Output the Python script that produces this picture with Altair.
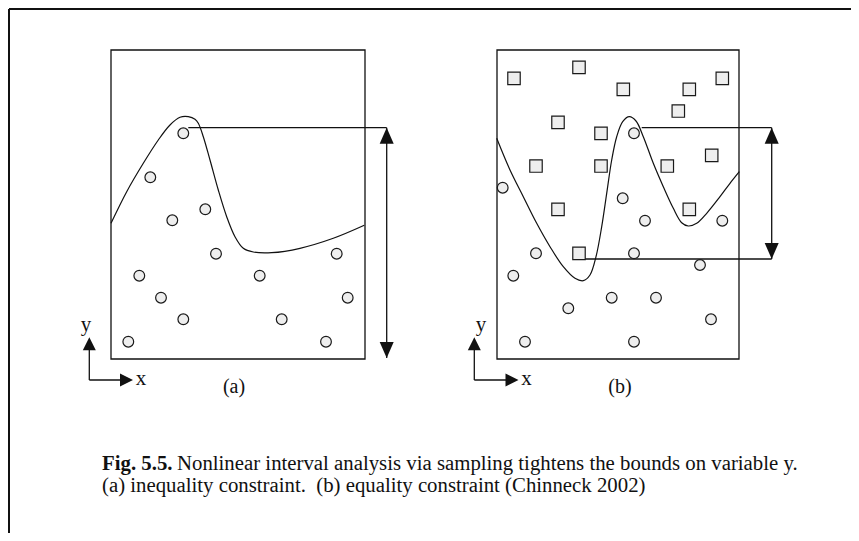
import altair as alt
import pandas as pd

# ---------------- data (diagram coordinates, y grows downward) ----------------
# panel (a): feasible sample points (circles)
a_circ_x = [183.3, 150.3, 172.3, 205.3, 216.0, 139.3, 161.0, 183.3, 128.3, 259.7, 281.7, 336.7, 347.7, 326.0]
a_circ_y = [133.3, 177.3, 220.3, 209.3, 253.7, 275.7, 297.7, 319.3, 341.7, 275.7, 319.3, 253.7, 297.7, 341.7]
# panel (a): constraint curve
a_curve_x = [111.0, 126.7, 143.3, 158.3, 170.0, 180.0, 188.3, 195.0, 198.3, 203.3, 210.0, 218.3, 226.7,
             235.0, 243.3, 253.3, 271.7, 300.0, 333.3, 364.3]
a_curve_y = [223.3, 191.7, 163.3, 140.0, 125.0, 117.3, 116.7, 119.3, 123.3, 136.7, 160.0, 190.0, 216.7,
             236.7, 248.3, 252.0, 252.7, 248.3, 238.3, 225.3]
# panel (b): infeasible (squares) and feasible (circles) sample points
b_sq_x = [514.0, 579.0, 623.3, 689.3, 722.3, 678.3, 558.0, 601.0, 711.7, 536.0, 601.0, 667.3, 558.0, 689.3, 579.0]
b_sq_y = [78.3, 67.3, 89.3, 89.3, 78.3, 111.0, 122.3, 133.3, 155.3, 166.0, 166.0, 166.0, 209.3, 209.3, 253.3]
b_circ_x = [634.0, 502.7, 622.7, 645.0, 722.3, 536.0, 634.0, 700.0, 513.3, 611.7, 656.0, 568.3, 711.0, 525.0, 634.0]
b_circ_y = [133.3, 187.7, 198.3, 220.7, 220.7, 253.3, 253.3, 265.0, 275.7, 297.7, 297.7, 308.3, 319.3, 341.7, 341.7]
# panel (b): constraint curve
b_curve_x = [496.7, 510.0, 523.3, 536.7, 550.0, 563.3, 575.0, 583.3, 590.0, 596.0, 601.7, 606.7, 611.7,
             616.7, 622.7, 629.3, 636.0, 643.3, 653.3, 663.3, 673.3, 681.7, 688.3, 696.7, 706.7, 720.0,
             730.0, 739.3]
b_curve_y = [138.3, 170.0, 196.7, 223.3, 246.7, 266.7, 278.3, 280.7, 275.0, 256.7, 226.7, 193.3, 160.0,
             136.7, 121.7, 116.7, 121.0, 136.7, 163.3, 186.7, 208.3, 222.7, 226.0, 223.3, 213.3, 196.7,
             183.3, 171.7]

# panel frames
box_x1 = [111, 497]
box_x2 = [365, 739]
box_y1 = [50, 50]
box_y2 = [359, 359]

# bound lines (horizontal) and bound arrows (vertical)
bound_x1 = [188.3, 641.7, 585.0]
bound_x2 = [386.7, 771.7, 771.7]
bound_y = [127.7, 127.7, 259.0]
arrow_x = [386.7, 771.7]
arrow_top = [127.7, 127.7]
arrow_bot = [358.0, 259.0]

# little x-y axis icons
icon_x0 = [89.3, 474.3]
icon_y0 = [380.0, 380.0]
icon_ytip = [337.3, 337.3]
icon_xtip = [133.0, 518.5]
ylab_x = [86.0, 481.0]
ylab_y = [325.0, 325.0]
xlab_x = [141.0, 526.5]
xlab_y = [379.0, 379.0]
panel_labels = ["(a)", "(b)"]
panel_lab_x = [234.0, 620.0]
panel_lab_y = [387.0, 387.0]

cap_bold = "Fig. 5.5."
cap_line1 = "Nonlinear interval analysis via sampling tightens the bounds on variable y."
cap_line2 = "(a) inequality constraint.\u00a0 (b) equality constraint (Chinneck 2002)"

# ---------------- chart ----------------
W, H = 843, 525
xs = alt.Scale(domain=[8, 8 + W], nice=False, zero=False)
ys = alt.Scale(domain=[8 + H, 8], nice=False, zero=False)
X = lambda f: alt.X(f, type="quantitative", scale=xs, axis=None)
Y = lambda f: alt.Y(f, type="quantitative", scale=ys, axis=None)
X2 = lambda f: alt.X2(f)
Y2 = lambda f: alt.Y2(f)
FONT = "Liberation Serif"
INK = "#111111"
CAP = 20.8

frame_df = pd.DataFrame({"x": [9, 9], "x2": [8 + W, 9], "y": [9, 9], "y2": [9, 8 + H]})
frame = alt.Chart(frame_df).mark_rule(color=INK, strokeWidth=2).encode(
    x=X("x"), x2=X2("x2"), y=Y("y"), y2=Y2("y2"))

box_df = pd.DataFrame({"x": box_x1, "x2": box_x2, "y": box_y1, "y2": box_y2})
boxes = alt.Chart(box_df).mark_rect(fill=None, stroke=INK, strokeWidth=1.3).encode(
    x=X("x"), x2=X2("x2"), y=Y("y"), y2=Y2("y2"))

curve_df = pd.concat([
    pd.DataFrame({"x": a_curve_x, "y": a_curve_y, "panel": "a", "o": range(len(a_curve_x))}),
    pd.DataFrame({"x": b_curve_x, "y": b_curve_y, "panel": "b", "o": range(len(b_curve_x))}),
])
curves = alt.Chart(curve_df).mark_line(color=INK, strokeWidth=1.2, interpolate="catmull-rom").encode(
    x=X("x"), y=Y("y"), detail="panel:N", order="o:Q")

bound_df = pd.DataFrame({"x": bound_x1, "x2": bound_x2, "y": bound_y})
bounds = alt.Chart(bound_df).mark_rule(color=INK, strokeWidth=1.3).encode(
    x=X("x"), x2=X2("x2"), y=Y("y"))

arr_df = pd.DataFrame({"x": arrow_x, "y": arrow_top, "y2": arrow_bot})
arrows = alt.Chart(arr_df).mark_rule(color=INK, strokeWidth=1.3).encode(
    x=X("x"), y=Y("y"), y2=Y2("y2"))

UP = "M0,0L-0.875,2L0.875,2Z"
DOWN = "M0,0L-0.875,-2L0.875,-2Z"
up_heads = alt.Chart(pd.DataFrame({"x": arrow_x, "y": arrow_top})).mark_point(
    shape=UP, size=256, filled=True, color=INK, opacity=1).encode(x=X("x"), y=Y("y"))
down_heads = alt.Chart(pd.DataFrame({"x": arrow_x, "y": arrow_bot})).mark_point(
    shape=DOWN, size=256, filled=True, color=INK, opacity=1).encode(x=X("x"), y=Y("y"))

circ_df = pd.DataFrame({"x": a_circ_x + b_circ_x, "y": a_circ_y + b_circ_y})
circles = alt.Chart(circ_df).mark_point(
    shape="circle", size=115, filled=False, fill="#eeeeee", fillOpacity=1, stroke="#1a1a1a",
    strokeWidth=1.2, opacity=1).encode(x=X("x"), y=Y("y"))

sq_df = pd.DataFrame({"x": b_sq_x, "y": b_sq_y})
squares = alt.Chart(sq_df).mark_point(
    shape="square", size=155, filled=False, fill="#eeeeee", fillOpacity=1, stroke="#1a1a1a",
    strokeWidth=1.2, opacity=1).encode(x=X("x"), y=Y("y"))

# axis icons
icon_v = alt.Chart(pd.DataFrame({"x": icon_x0, "y": icon_y0, "y2": [t + 6 for t in icon_ytip]})).mark_rule(
    color=INK, strokeWidth=1.3).encode(x=X("x"), y=Y("y"), y2=Y2("y2"))
icon_h = alt.Chart(pd.DataFrame({"x": icon_x0, "x2": [t - 6 for t in icon_xtip], "y": icon_y0})).mark_rule(
    color=INK, strokeWidth=1.3).encode(x=X("x"), x2=X2("x2"), y=Y("y"))
SUP = "M0,0L-1,2L1,2Z"
SRIGHT = "M0,0L-2,-1L-2,1Z"
icon_uh = alt.Chart(pd.DataFrame({"x": icon_x0, "y": icon_ytip})).mark_point(
    shape=SUP, size=169, filled=True, color=INK, opacity=1).encode(x=X("x"), y=Y("y"))
icon_rh = alt.Chart(pd.DataFrame({"x": icon_xtip, "y": icon_y0})).mark_point(
    shape=SRIGHT, size=169, filled=True, color=INK, opacity=1).encode(x=X("x"), y=Y("y"))

lab_df = pd.DataFrame({
    "x": ylab_x + xlab_x,
    "y": ylab_y + xlab_y,
    "t": ["y", "y", "x", "x"],
})
axlabs = alt.Chart(lab_df).mark_text(font=FONT, fontSize=21, color=INK, align="center", baseline="middle").encode(
    x=X("x"), y=Y("y"), text="t:N")

plab_df = pd.DataFrame({"x": panel_lab_x, "y": panel_lab_y, "t": panel_labels})
plabs = alt.Chart(plab_df).mark_text(font=FONT, fontSize=20, color=INK, align="center", baseline="middle").encode(
    x=X("x"), y=Y("y"), text="t:N")

capb = alt.Chart(pd.DataFrame({"x": [102], "y": [470], "t": [cap_bold]})).mark_text(
    font=FONT, fontSize=CAP, fontWeight="bold", color=INK, align="left", baseline="alphabetic").encode(
    x=X("x"), y=Y("y"), text="t:N")
cap1 = alt.Chart(pd.DataFrame({"x": [177], "y": [470], "t": [cap_line1]})).mark_text(
    font=FONT, fontSize=CAP, color=INK, align="left", baseline="alphabetic").encode(
    x=X("x"), y=Y("y"), text="t:N")
cap2 = alt.Chart(pd.DataFrame({"x": [102], "y": [492], "t": [cap_line2]})).mark_text(
    font=FONT, fontSize=CAP, color=INK, align="left", baseline="alphabetic").encode(
    x=X("x"), y=Y("y"), text="t:N")

chart = alt.layer(
    frame, boxes, curves, bounds, arrows, up_heads, down_heads, circles, squares,
    icon_v, icon_h, icon_uh, icon_rh, axlabs, plabs, capb, cap1, cap2
).properties(
    width=W, height=H, padding=0, autosize=alt.AutoSizeParams(type="none"), background="white"
).configure_view(stroke=None)

chart.save("out.html", embed_options={"renderer": "svg", "actions": False})
